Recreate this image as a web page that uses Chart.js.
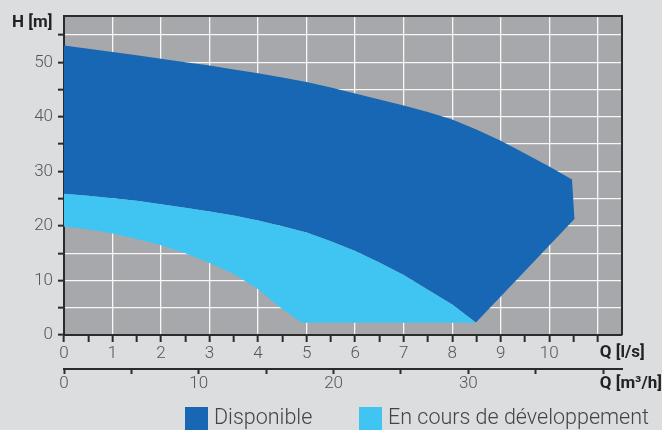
<!DOCTYPE html>
<html>
<head>
<meta charset="utf-8">
<script src="https://cdn.jsdelivr.net/npm/chart.js@4.4.1/dist/chart.umd.min.js"></script>
<style>
  html, body { margin: 0; padding: 0; background: #dcdddf; }
  #wrap { width: 662px; height: 430px; position: relative; }
</style>
</head>
<body>
<div id="wrap"><canvas id="c" width="662" height="430"></canvas></div>
<script>
// ---- Data ----
const seriesLabels = ["Disponible", "En cours de développement"];
const seriesColors = ["#1767b4", "#40c5f3"];

// Dark blue ("Disponible") envelope: upper curve, right edge
const darkTopQ = [0, 0.5, 1, 1.5, 2, 2.5, 3, 3.5, 4, 4.5, 5, 5.5, 6, 6.5, 7, 7.5, 8, 8.5, 9, 9.5, 10, 10.47];
const darkTopH = [53.1, 52.5, 51.9, 51.3, 50.65, 50.0, 49.4, 48.7, 48.0, 47.2, 46.4, 45.4, 44.3, 43.2, 42.1, 40.9, 39.5, 37.7, 35.6, 33.3, 30.9, 28.5];
const darkEdgeQ = [10.52, 8.5];
const darkEdgeH = [21.25, 2.4];

// Light blue ("En cours de développement") envelope
const lightTopQ = [0, 0.5, 1, 1.5, 2, 2.5, 3, 3.5, 4, 4.5, 5, 5.5, 6, 6.5, 7, 7.5, 8, 8.48];
const lightTopH = [25.9, 25.55, 25.1, 24.6, 24.0, 23.35, 22.65, 21.9, 21.0, 19.95, 18.8, 17.2, 15.4, 13.3, 11.0, 8.3, 5.6, 2.35];
const lightBottomQ = [8.48, 4.9];
const lightBottomH = [2.25, 2.25];
const lightLowQ = [4.9, 4.4, 4.0, 3.5, 3, 2.5, 2, 1.5, 1, 0.5, 0];
const lightLowH = [2.25, 5.4, 8.4, 11.2, 13.2, 15.0, 16.45, 17.6, 18.6, 19.35, 19.9];

// Axis ranges / ticks
const qLsMax = 11.5;
const m3hPerLs = 3.6;
const hMax = 58.5;
const xLabelMax = 10;
const yLabelStep = 10;
const x2LabelStep = 10;
const x2LabelMax = 30;

// ---- Build point lists ----
const pts = (qs, hs) => qs.map((q, i) => ({ x: q, y: hs[i] }));
const darkPoly = [
  ...pts(darkTopQ, darkTopH),
  ...pts(darkEdgeQ, darkEdgeH),
  ...pts(lightTopQ, lightTopH).reverse()
];
const lightPoly = [
  ...pts(lightTopQ, lightTopH),
  ...pts(lightBottomQ, lightBottomH),
  ...pts(lightLowQ, lightLowH)
];

const DARK = "#2b2b2b";
const GRID = "rgba(255,255,255,0.9)";
const isInt = v => Math.abs(v - Math.round(v)) < 1e-6;

const decorPlugin = {
  id: "decor",
  beforeDraw(chart) {
    const { ctx, chartArea: a } = chart;
    ctx.save();
    ctx.fillStyle = "#dcdddf";
    ctx.fillRect(0, 0, chart.width, chart.height);
    ctx.fillStyle = "#a7a8ab";
    ctx.fillRect(a.left, a.top, a.right - a.left, a.bottom - a.top);
    ctx.restore();
  },
  afterDraw(chart) {
    const { ctx, chartArea: a } = chart;
    const xs = chart.scales.x;
    ctx.save();
    // top & right frame
    ctx.strokeStyle = DARK;
    ctx.lineWidth = 2;
    ctx.beginPath();
    ctx.moveTo(a.left, a.top);
    ctx.lineTo(a.right, a.top);
    ctx.lineTo(a.right, a.bottom);
    ctx.stroke();

    // axis titles
    ctx.fillStyle = "#222";
    ctx.font = "bold 17px Roboto";
    ctx.textBaseline = "middle";
    ctx.textAlign = "left";
    ctx.fillText("H [m]", 12, 23);
    const qx = xs.getPixelForValue(11) + 2;
    ctx.fillText("Q [l/s]", qx, 353);
    ctx.fillText("Q [m³/h]", qx, 384);

    // legend
    const items = chart.data.datasets.map(d => ({ label: d.label, color: d.backgroundColor }));
    const order = [items.find(i => i.label === seriesLabels[0]), items.find(i => i.label === seriesLabels[1])];
    const boxX = [185, 359];
    ctx.font = "300 21.5px Roboto";
    order.forEach((it, i) => {
      ctx.fillStyle = it.color;
      ctx.fillRect(boxX[i], 407, 23, 23);
      ctx.fillStyle = "#444";
      ctx.fillText(it.label, boxX[i] + 29, 419);
    });
    ctx.restore();
  }
};

const tickFont = { family: "Roboto", size: 17, weight: "300" };

new Chart(document.getElementById("c"), {
  type: "scatter",
  data: {
    datasets: [
      {
        label: seriesLabels[1],
        data: lightPoly,
        showLine: true,
        fill: "shape",
        backgroundColor: seriesColors[1],
        borderColor: seriesColors[1],
        borderWidth: 0,
        pointRadius: 0,
        tension: 0
      },
      {
        label: seriesLabels[0],
        data: darkPoly,
        showLine: true,
        fill: "shape",
        backgroundColor: seriesColors[0],
        borderColor: seriesColors[0],
        borderWidth: 0,
        pointRadius: 0,
        tension: 0
      }
    ]
  },
  options: {
    responsive: false,
    animation: false,
    devicePixelRatio: 1,
    layout: { padding: { left: 0, right: 40, top: 16, bottom: 33 } },
    plugins: { legend: { display: false }, tooltip: { enabled: false } },
    scales: {
      x: {
        type: "linear",
        position: "bottom",
        min: 0,
        max: qLsMax,
        z: 1,
        afterFit: s => { s.height = 34; },
        border: { display: true, color: DARK, width: 2 },
        grid: {
          color: c => (isInt(c.tick.value) && c.tick.value > 0 && c.tick.value < qLsMax) ? GRID : "rgba(0,0,0,0)",
          lineWidth: 1.3,
          tickColor: c => c.tick.value < qLsMax - 0.01 ? DARK : "rgba(0,0,0,0)",
          tickLength: 7,
          tickWidth: 2
        },
        ticks: {
          stepSize: 0.5,
          autoSkip: false,
          maxRotation: 0,
          padding: 2,
          color: "#555",
          font: tickFont,
          callback: v => (isInt(v) && v <= xLabelMax) ? String(v) : ""
        }
      },
      x2: {
        type: "linear",
        position: "bottom",
        min: 0,
        max: qLsMax * m3hPerLs,
        afterFit: s => { s.height = 28; },
        border: { display: true, color: DARK, width: 2 },
        grid: {
          drawOnChartArea: false,
          tickColor: DARK,
          tickLength: 5,
          tickWidth: 2
        },
        ticks: {
          stepSize: 5,
          includeBounds: false,
          autoSkip: false,
          maxRotation: 0,
          padding: 0,
          color: "#555",
          font: tickFont,
          callback: v => (v % x2LabelStep === 0 && v <= x2LabelMax) ? String(v) : ""
        }
      },
      y: {
        type: "linear",
        position: "left",
        min: 0,
        max: hMax,
        z: 1,
        afterFit: s => { s.width = 64; },
        border: { display: true, color: DARK, width: 2 },
        grid: {
          color: c => c.tick.value > 0 ? GRID : "rgba(0,0,0,0)",
          lineWidth: 1.3,
          tickColor: DARK,
          tickLength: 6,
          tickWidth: 2
        },
        ticks: {
          stepSize: 5,
          includeBounds: false,
          autoSkip: false,
          padding: 5,
          color: "#555",
          font: tickFont,
          callback: v => (v % yLabelStep === 0) ? String(v) : ""
        }
      }
    }
  },
  plugins: [decorPlugin]
});
</script>
</body>
</html>
